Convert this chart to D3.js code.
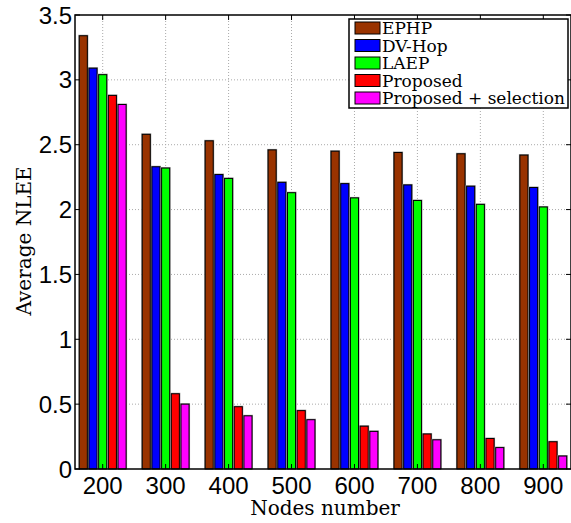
<!DOCTYPE html>
<html>
<head>
<meta charset="utf-8">
<script src="https://cdn.jsdelivr.net/npm/d3@7"></script>
<style>
  body { margin: 0; background: #fff; }
  .tick-label { font-family: "Liberation Sans", Arial, sans-serif; font-size: 24px; fill: #000; }
  .axis-title { font-family: "DejaVu Serif", serif; font-size: 20px; fill: #000; }
  .legend-text { font-family: "DejaVu Serif", serif; font-size: 17px; fill: #000; }
</style>
</head>
<body>
<div id="chart"></div>
<script>
// data
var nodes = [200, 300, 400, 500, 600, 700, 800, 900];
var seriesNames = ["EPHP", "DV-Hop", "LAEP", "Proposed", "Proposed + selection"];
var seriesColors = ["#993300", "#0000ff", "#00ff00", "#ff0000", "#ff00ff"];

var ephp = [3.34, 2.58, 2.53, 2.46, 2.45, 2.44, 2.43, 2.42];
var dvhop = [3.09, 2.33, 2.27, 2.21, 2.20, 2.19, 2.18, 2.17];
var laep = [3.04, 2.32, 2.24, 2.13, 2.09, 2.07, 2.04, 2.02];
var proposed = [2.88, 0.58, 0.48, 0.45, 0.33, 0.27, 0.235, 0.21];
var proposedSel = [2.81, 0.50, 0.41, 0.38, 0.29, 0.225, 0.165, 0.10];

var yTicks = [0, 0.5, 1, 1.5, 2, 2.5, 3, 3.5];

var allSeries = [ephp, dvhop, laep, proposed, proposedSel];

var svgWidth = 571;
var svgHeight = 523;

var plot = { left: 75, right: 571, top: 15, bottom: 469 };

var svg = d3.select("#chart")
  .append("svg")
  .attr("width", svgWidth)
  .attr("height", svgHeight);

var x = d3.scaleLinear()
  .domain([156, 944])
  .range([plot.left, plot.right]);

var y = d3.scaleLinear()
  .domain([0, 3.5])
  .range([plot.bottom, plot.top]);

// bar offsets inside a group, in data units
var step = 15.4;
var barW = 12.8;

// grid lines (dotted)
var grid = svg.append("g");
grid.selectAll("line.gy")
  .data(yTicks.filter(d => d > 0 && d < 3.5))
  .enter().append("line")
  .attr("x1", plot.left).attr("x2", plot.right)
  .attr("y1", d => y(d)).attr("y2", d => y(d))
  .attr("stroke", "#aaa")
  .attr("stroke-dasharray", "1,2");
grid.selectAll("line.gx")
  .data(nodes)
  .enter().append("line")
  .attr("x1", d => x(d)).attr("x2", d => x(d))
  .attr("y1", plot.top).attr("y2", plot.bottom)
  .attr("stroke", "#aaa")
  .attr("stroke-dasharray", "1,2");

// bars
allSeries.forEach(function(vals, si) {
  var off = (si - 2) * step;
  var g = svg.append("g");
  var items = g.selectAll("g").data(vals).enter();
  // soft grey edge
  items.append("rect")
    .attr("x", (d, i) => x(nodes[i] + off - barW / 2) - 1)
    .attr("y", d => y(d) - 1)
    .attr("width", x(barW) - x(0) + 2)
    .attr("height", d => y(0) - y(d) + 1)
    .attr("fill", "#999");
  items.append("rect")
    .attr("x", (d, i) => x(nodes[i] + off - barW / 2))
    .attr("y", d => y(d))
    .attr("width", x(barW) - x(0))
    .attr("height", d => y(0) - y(d))
    .attr("fill", seriesColors[si])
    .attr("stroke", "#000")
    .attr("stroke-width", 1);
});

// box
svg.append("rect")
  .attr("x", plot.left).attr("y", plot.top)
  .attr("width", plot.right - plot.left)
  .attr("height", plot.bottom - plot.top)
  .attr("fill", "none")
  .attr("stroke", "#000")
  .attr("stroke-width", 1.5);

// inward ticks
var tickLen = 5;
var ticks = svg.append("g").attr("stroke", "#000").attr("stroke-width", 1);
yTicks.forEach(function(t) {
  ticks.append("line").attr("x1", plot.left).attr("x2", plot.left + tickLen)
    .attr("y1", y(t)).attr("y2", y(t));
  ticks.append("line").attr("x1", plot.right - tickLen).attr("x2", plot.right)
    .attr("y1", y(t)).attr("y2", y(t));
});
nodes.forEach(function(n) {
  ticks.append("line").attr("x1", x(n)).attr("x2", x(n))
    .attr("y1", plot.bottom).attr("y2", plot.bottom - tickLen);
  ticks.append("line").attr("x1", x(n)).attr("x2", x(n))
    .attr("y1", plot.top).attr("y2", plot.top + tickLen);
});

// tick labels
svg.selectAll("text.yl")
  .data(yTicks)
  .enter().append("text")
  .attr("class", "tick-label")
  .attr("x", plot.left - 3)
  .attr("y", d => y(d))
  .attr("dy", "0.36em")
  .attr("text-anchor", "end")
  .text(d => d);

svg.selectAll("text.xl")
  .data(nodes)
  .enter().append("text")
  .attr("class", "tick-label")
  .attr("x", d => x(d))
  .attr("y", 494)
  .attr("text-anchor", "middle")
  .text(d => d);

// axis titles
svg.append("text")
  .attr("class", "axis-title")
  .attr("x", (plot.left + plot.right) / 2 + 2)
  .attr("y", 515)
  .attr("text-anchor", "middle")
  .text("Nodes number");

svg.append("text")
  .attr("class", "axis-title")
  .attr("transform", "translate(31, 241) rotate(-90)")
  .attr("text-anchor", "middle")
  .text("Average NLEE");

// legend
var legend = svg.append("g");
legend.append("rect")
  .attr("x", 349).attr("y", 19)
  .attr("width", 219).attr("height", 89)
  .attr("fill", "#fff")
  .attr("stroke", "#000")
  .attr("stroke-width", 1.5);

var rowY = d3.scaleLinear().domain([0, 4]).range([22, 92]);
seriesNames.forEach(function(name, i) {
  legend.append("rect")
    .attr("x", 355).attr("y", rowY(i))
    .attr("width", 25).attr("height", 12)
    .attr("fill", seriesColors[i])
    .attr("stroke", "#000")
    .attr("stroke-width", 1);
  legend.append("text")
    .attr("class", "legend-text")
    .attr("x", 382)
    .attr("y", rowY(i) + 12)
    .text(name);
});
</script>
</body>
</html>
